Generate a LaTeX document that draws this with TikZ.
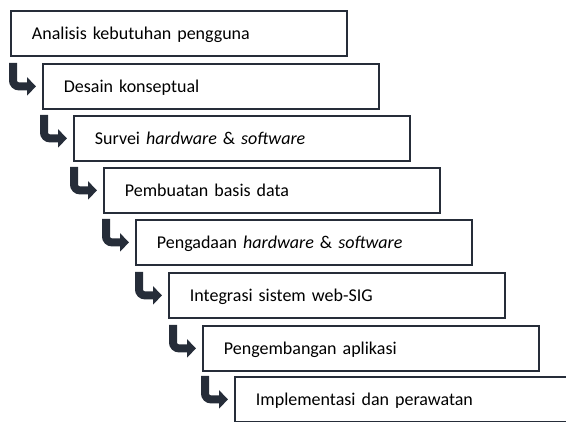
\documentclass[tikz,border=0pt]{standalone}
\usepackage{fontspec}
\setmainfont{Carlito}
\usetikzlibrary{arrows.meta}
\definecolor{ink}{RGB}{38,45,57}
\tikzset{
  stepbox/.style={draw=ink, line width=1.8pt, anchor=north west, inner xsep=21pt, inner ysep=0pt,
    text width=294pt, minimum height=45pt, align=left, text height=13pt, text depth=0pt,
    font=\fontsize{18}{22}\selectfont, text=black},
  bentarrow/.style={draw=ink, line width=8pt, rounded corners=6pt,
    -{Triangle[length=9pt, width=18pt]}}
}
\begin{document}
\begin{tikzpicture}[x=1pt, y=-1pt]
\useasboundingbox (0,0) rectangle (566,422);
\node[stepbox] (b1) at (10,10) {Analisis kebutuhan pengguna};
\node[stepbox] (b2) at (42,63) {Desain konseptual};
\node[stepbox] (b3) at (73,115) {Survei \textit{hardware} \& \textit{software}};
\node[stepbox] (b4) at (103,167) {Pembuatan basis data};
\node[stepbox] (b5) at (135,219) {Pengadaan \textit{hardware} \& \textit{software}};
\node[stepbox] (b6) at (168,272) {Integrasi sistem web-SIG};
\node[stepbox] (b7) at (202,325) {Pengembangan aplikasi};
\node[stepbox] (b8) at (234,376) {Implementasi dan perawatan};
\foreach \n in {2,...,8}{
  \draw[bentarrow] ([xshift=-29pt]b\n.north west) |- ([xshift=-6pt]b\n.west);
}
\end{tikzpicture}
\end{document}
